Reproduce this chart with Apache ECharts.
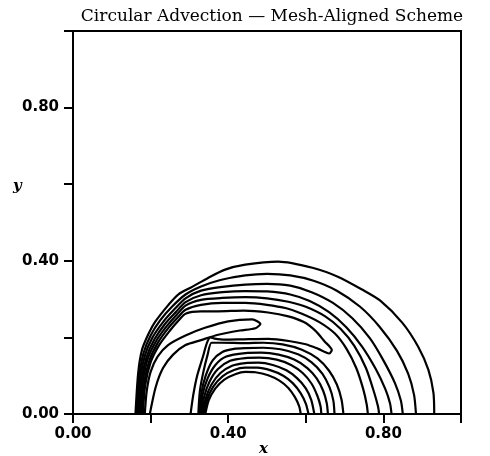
<!DOCTYPE html>
<html>
<head>
<meta charset="utf-8">
<script src="https://cdn.jsdelivr.net/npm/echarts@6/dist/echarts.min.js"></script>
<style>
  html, body { margin: 0; padding: 0; background: #fff; }
  #chart { width: 490px; height: 456px; }
</style>
</head>
<body>
<div id="chart"></div>
<script>
// contour lines, [x, y] pairs
const outer1 = [[0.161,0],[0.168,0.107],[0.178,0.168],[0.195,0.21],[0.212,0.241],[0.246,0.285],[0.271,0.312],[0.307,0.332],[0.349,0.356],[0.392,0.377],[0.444,0.390],[0.529,0.398],[0.617,0.382],[0.684,0.358],[0.745,0.325],[0.792,0.296],[0.849,0.238],[0.890,0.175],[0.916,0.115],[0.929,0.055],[0.931,0]];
const outer2 = [[0.164,0],[0.171,0.1],[0.182,0.16],[0.2,0.205],[0.225,0.245],[0.255,0.28],[0.29,0.312],[0.33,0.333],[0.38,0.35],[0.444,0.362],[0.5,0.366],[0.56,0.362],[0.62,0.348],[0.68,0.322],[0.74,0.28],[0.79,0.228],[0.835,0.165],[0.864,0.105],[0.879,0.05],[0.884,0]];
const outer3 = [[0.167,0],[0.174,0.095],[0.186,0.155],[0.205,0.2],[0.232,0.24],[0.26,0.272],[0.29,0.302],[0.33,0.322],[0.385,0.332],[0.444,0.338],[0.5,0.34],[0.56,0.335],[0.615,0.318],[0.67,0.29],[0.72,0.25],[0.765,0.198],[0.8,0.14],[0.83,0.08],[0.845,0.035],[0.850,0]];
const outer4 = [[0.17,0],[0.177,0.09],[0.19,0.15],[0.21,0.195],[0.237,0.235],[0.265,0.266],[0.29,0.292],[0.33,0.31],[0.385,0.318],[0.444,0.321],[0.5,0.32],[0.56,0.312],[0.61,0.295],[0.66,0.266],[0.705,0.226],[0.745,0.176],[0.78,0.118],[0.805,0.065],[0.817,0.028],[0.821,0]];
const outer5 = [[0.173,0],[0.18,0.085],[0.193,0.145],[0.214,0.19],[0.242,0.23],[0.268,0.26],[0.29,0.283],[0.33,0.298],[0.385,0.303],[0.444,0.305],[0.5,0.302],[0.555,0.293],[0.6,0.28],[0.65,0.255],[0.69,0.222],[0.725,0.178],[0.755,0.12],[0.775,0.06],[0.786,0.02],[0.789,0]];
const outer6 = [[0.176,0],[0.183,0.08],[0.197,0.14],[0.218,0.185],[0.246,0.225],[0.27,0.252],[0.29,0.272],[0.33,0.285],[0.385,0.29],[0.444,0.29],[0.5,0.285],[0.55,0.276],[0.59,0.262],[0.635,0.24],[0.675,0.21],[0.705,0.17],[0.73,0.12],[0.748,0.065],[0.757,0.025],[0.760,0]];
const bigTongue = [[0.180,0],[0.186,0.075],[0.2,0.135],[0.222,0.18],[0.25,0.218],[0.272,0.244],[0.29,0.262],[0.33,0.268],[0.374,0.268],[0.44,0.27],[0.503,0.265],[0.555,0.255],[0.595,0.24],[0.625,0.217],[0.648,0.19],[0.667,0.167],[0.66,0.158],[0.632,0.17],[0.6,0.182],[0.56,0.19],[0.503,0.196],[0.44,0.195],[0.39,0.194],[0.365,0.197],[0.354,0.2],[0.345,0.185],[0.335,0.15],[0.32,0.1],[0.31,0.05],[0.303,0]];
const smallTongue = [[0.185,0],[0.19,0.06],[0.2,0.11],[0.218,0.15],[0.245,0.18],[0.29,0.205],[0.34,0.225],[0.40,0.242],[0.462,0.247],[0.483,0.235],[0.47,0.224],[0.43,0.218],[0.374,0.207],[0.33,0.193],[0.29,0.18],[0.258,0.155],[0.232,0.12],[0.213,0.07],[0.198,0]];
const inner1 = [[0.323,0],[0.327,0.06],[0.336,0.11],[0.347,0.155],[0.357,0.186],[0.38,0.186],[0.444,0.185],[0.49,0.186],[0.54,0.182],[0.59,0.168],[0.63,0.145],[0.66,0.113],[0.68,0.077],[0.692,0.038],[0.697,0]];
const inner2 = [[0.326,0],[0.331,0.055],[0.342,0.1],[0.36,0.14],[0.385,0.162],[0.415,0.17],[0.444,0.172],[0.49,0.173],[0.535,0.169],[0.58,0.156],[0.615,0.135],[0.643,0.105],[0.661,0.07],[0.671,0.035],[0.674,0]];
const inner3 = [[0.329,0],[0.334,0.05],[0.347,0.093],[0.367,0.128],[0.395,0.15],[0.444,0.159],[0.485,0.16],[0.53,0.155],[0.57,0.142],[0.604,0.12],[0.628,0.093],[0.645,0.06],[0.654,0.028],[0.657,0]];
const inner4 = [[0.332,0],[0.338,0.045],[0.352,0.085],[0.373,0.117],[0.405,0.139],[0.444,0.146],[0.48,0.147],[0.525,0.142],[0.562,0.128],[0.592,0.107],[0.615,0.079],[0.63,0.047],[0.638,0.02],[0.640,0]];
const inner5 = [[0.335,0],[0.342,0.04],[0.357,0.077],[0.38,0.107],[0.41,0.126],[0.444,0.133],[0.478,0.134],[0.515,0.128],[0.55,0.114],[0.578,0.093],[0.6,0.067],[0.614,0.037],[0.622,0]];
const inner6 = [[0.338,0],[0.346,0.038],[0.362,0.072],[0.386,0.099],[0.415,0.115],[0.444,0.121],[0.475,0.121],[0.51,0.114],[0.542,0.1],[0.567,0.08],[0.587,0.054],[0.6,0.027],[0.607,0]];
const inner7 = [[0.341,0],[0.35,0.036],[0.367,0.067],[0.39,0.09],[0.418,0.104],[0.444,0.11],[0.47,0.109],[0.503,0.101],[0.532,0.087],[0.555,0.068],[0.572,0.044],[0.583,0.02],[0.587,0]];

const xLabels = [0, 0.4, 0.8];
const yLabels = [0, 0.4, 0.8];

const contours = [outer1, outer2, outer3, outer4, outer5, outer6, bigTongue, smallTongue,
  inner1, inner2, inner3, inner4, inner5, inner6, inner7];

const labelFont = { color: '#000', fontFamily: 'DejaVu Sans', fontWeight: 'bold', fontSize: 15 };
const nameFont = 'italic bold 15px "DejaVu Serif"';

const myChart = echarts.init(document.getElementById('chart'));
myChart.setOption({
  backgroundColor: '#fff',
  animation: false,
  title: {
    text: 'Circular Advection — Mesh-Aligned Scheme',
    left: 267, top: 3, textAlign: 'center',
    textStyle: { fontFamily: 'DejaVu Serif', fontSize: 17, fontWeight: 'normal', color: '#000' }
  },
  grid: { left: 73, right: 29, top: 31, bottom: 42, show: true, borderColor: '#000', borderWidth: 2 },
  graphic: [
    { type: 'text', left: 13, top: 179, style: { text: 'y', font: nameFont, fill: '#000' } },
    { type: 'text', left: 259, top: 442, style: { text: 'x', font: nameFont, fill: '#000' } }
  ],
  xAxis: {
    type: 'value', min: 0, max: 1, interval: 0.2,
    axisLine: { lineStyle: { color: '#000', width: 2 } },
    axisTick: { inside: false, length: 9, lineStyle: { color: '#000', width: 2 } },
    splitLine: { show: false },
    axisLabel: Object.assign({ margin: 13, showMaxLabel: true,
      formatter: v => xLabels.some(t => Math.abs(t - v) < 1e-6) ? v.toFixed(2) : '' }, labelFont)
  },
  yAxis: {
    type: 'value', min: 0, max: 1, interval: 0.2,
    axisLine: { lineStyle: { color: '#000', width: 2 } },
    axisTick: { inside: false, length: 9, lineStyle: { color: '#000', width: 2 } },
    splitLine: { show: false },
    axisLabel: Object.assign({ margin: 14,
      formatter: v => yLabels.some(t => Math.abs(t - v) < 1e-6) ? v.toFixed(2) : '' }, labelFont)
  },
  series: contours.map(c => ({
    type: 'line', data: c, showSymbol: false, smooth: 0.25,
    lineStyle: { color: '#000', width: 2.2 }, silent: true
  }))
});
window.addEventListener('resize', () => { myChart.resize() });
</script>
</body>
</html>
